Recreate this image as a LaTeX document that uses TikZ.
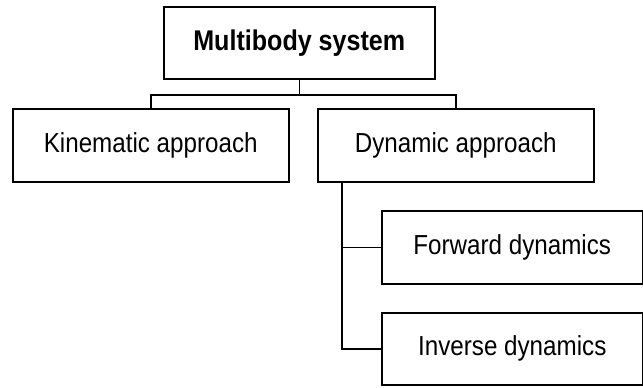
\documentclass[tikz,border=0pt]{standalone}
\usepackage{fontspec}
\setmainfont{Liberation Sans}[FakeStretch=0.88]
\begin{document}
\begin{tikzpicture}[x=1pt,y=-1pt,
  box/.style={draw,line width=1.5pt,inner sep=0pt,anchor=north west,font=\fontsize{27.5}{32}\selectfont},
  conn/.style={line width=1.5pt}]
\useasboundingbox (0,0) rectangle (643,388);
\node[box,minimum width=271pt,minimum height=72pt,font=\fontsize{28.5}{32}\selectfont\bfseries] (top) at (163,6) {Multibody system};
\node[box,minimum width=276pt,minimum height=73pt] (kin) at (12,108) {Kinematic approach};
\node[box,minimum width=276pt,minimum height=73pt] (dyn) at (317,108) {Dynamic approach};
\node[box,minimum width=261pt,minimum height=73pt] (fwd) at (381,210) {Forward dynamics};
\node[box,minimum width=261pt,minimum height=72pt] (inv) at (381,312) {Inverse dynamics};
\coordinate (bar) at (0,95);
\coordinate (ds) at (342,0);
\draw[conn] (top.south) -- (top.south |- bar);
\draw[conn] (kin.north) |- (bar -| dyn.north) -- (dyn.north);
\draw[conn] (ds |- dyn.south) |- (inv.west);
\draw[conn] (ds |- fwd.west) -- (fwd.west);
\end{tikzpicture}
\end{document}
